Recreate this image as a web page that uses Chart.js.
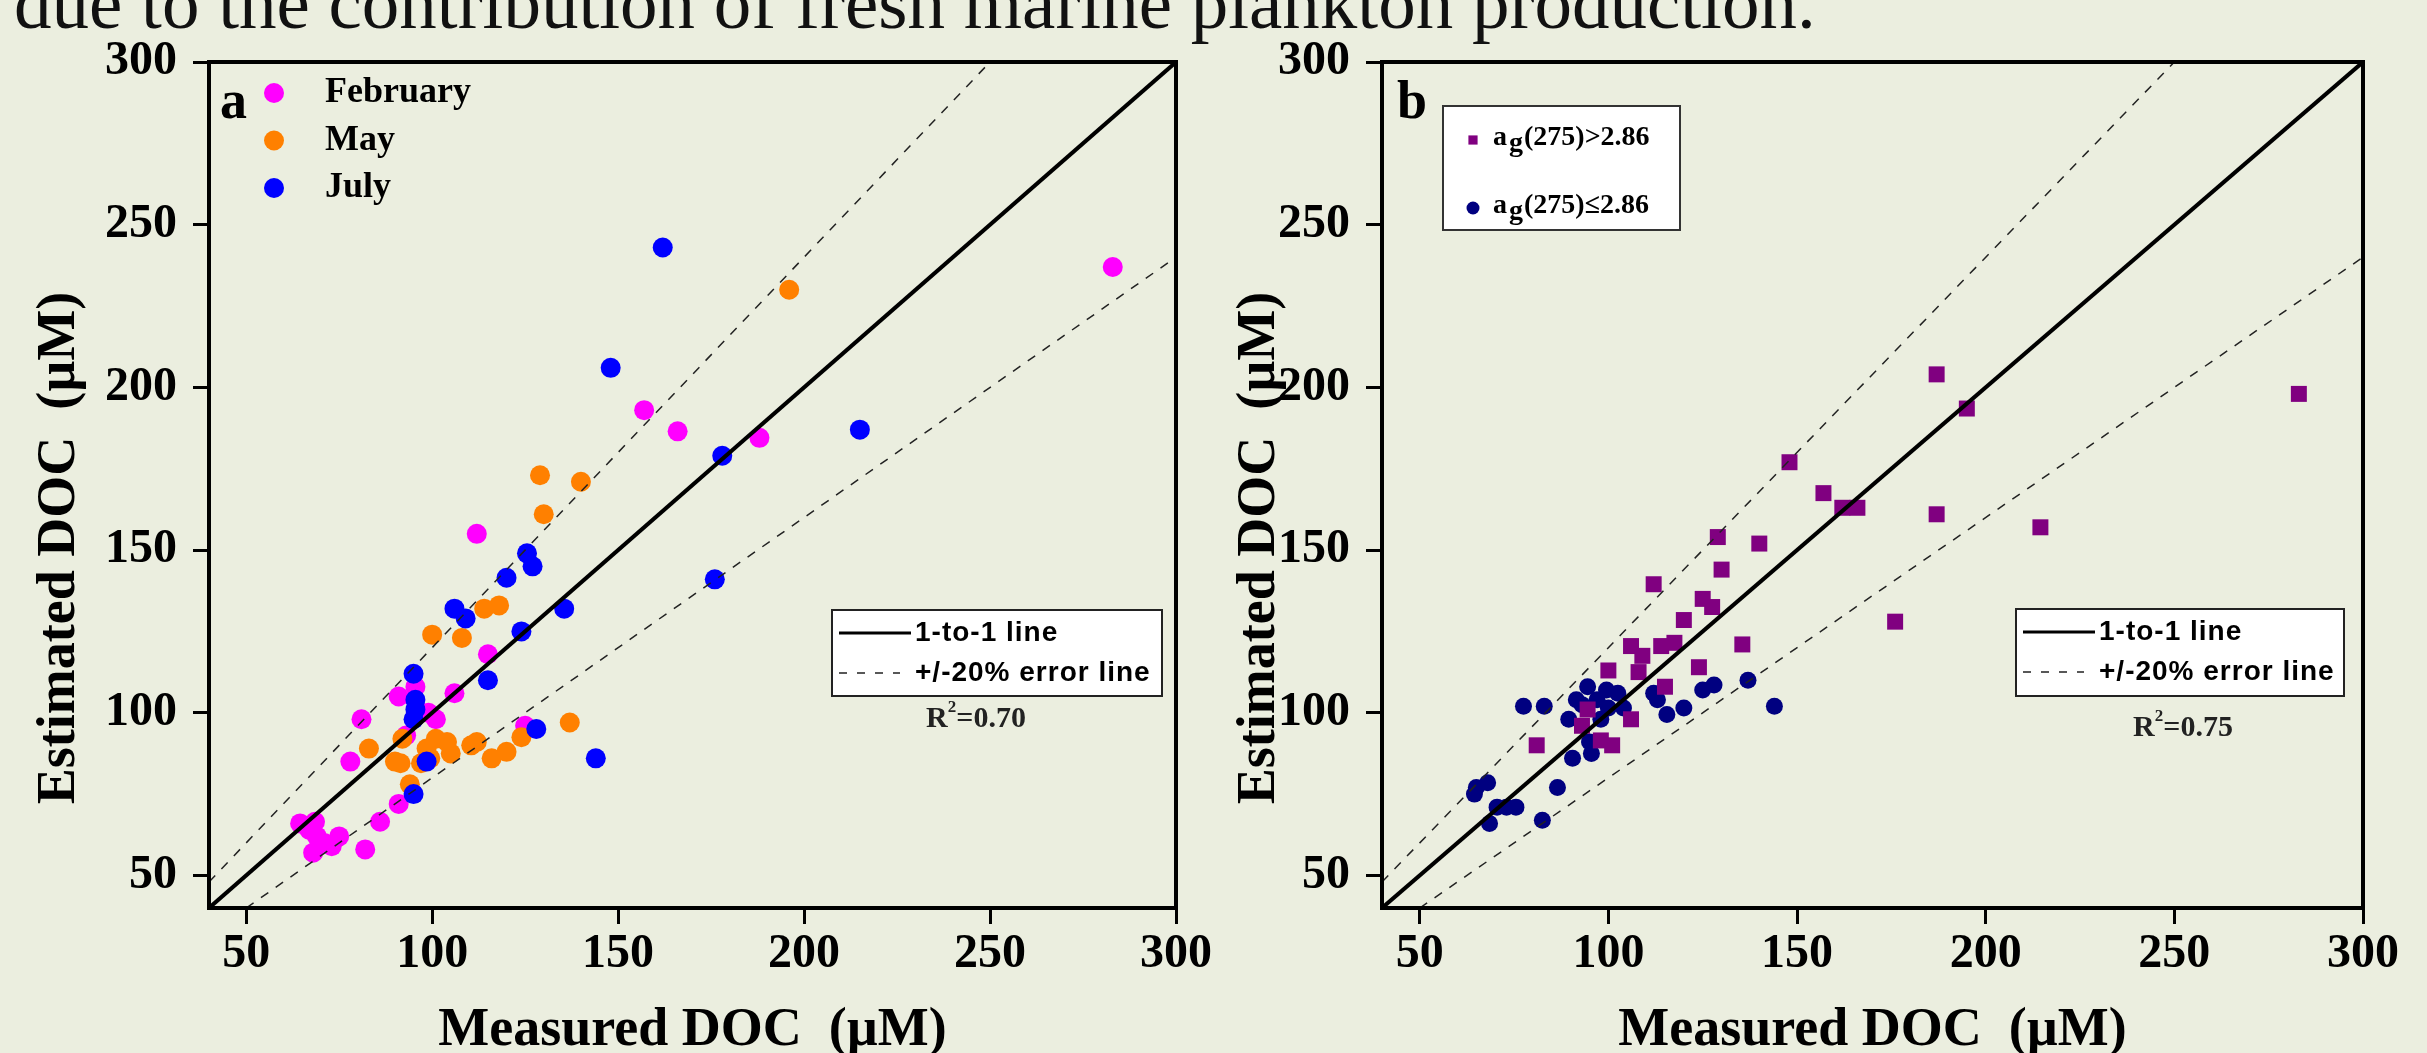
<!DOCTYPE html>
<html>
<head>
<meta charset="utf-8">
<script src="https://cdn.jsdelivr.net/npm/chart.js@4.4.1/dist/chart.umd.min.js"></script>
<style>
  html, body { margin: 0; padding: 0; background: #ebeedf; overflow: hidden; }
  #page { position: relative; width: 2427px; height: 1053px; }
  #caption { position: absolute; left: 14px; top: -35px; font-family: "Liberation Serif", serif; font-size: 75px; line-height: 75px; white-space: nowrap; color: #111; }
  .panel { position: absolute; top: 0; }
</style>
</head>
<body>
<div id="page">
  <div id="caption">due to the contribution of fresh marine plankton production.</div>
  <canvas id="chartA" class="panel" style="left:0" width="1214" height="1053"></canvas>
  <canvas id="chartB" class="panel" style="left:1214px" width="1213" height="1053"></canvas>
</div>
<script>
// axes
const xTicks = [50, 100, 150, 200, 250, 300];
const yTicks = [50, 100, 150, 200, 250, 300];
const axisMin = 40, axisMax = 300;
const xTitle = 'Measured DOC  (\u00b5M)';
const yTitle = 'Estimated DOC  (\u00b5M)';

// panel a: by sampling month
const monthLabels = ['February', 'May', 'July'];
const monthColors = ['#ff00ff', '#ff8000', '#0000ff'];
const febMeasured  = [64.5, 67, 68.5, 69, 68, 71, 73, 75, 82, 86, 91, 78, 81, 91, 95.5, 93, 99, 101, 106, 115, 112, 125, 157, 166, 188, 283];
const febEstimated = [66, 64, 66.5, 62, 57, 60, 59, 62, 58, 66.5, 72, 85, 98, 105, 108, 93, 100, 98, 106, 118, 155, 96, 193, 186.5, 184.5, 237];
const mayMeasured  = [83, 92, 90, 91.5, 94, 97, 98.5, 99.5, 101, 104, 105, 110.5, 112, 116, 120, 124, 137, 100, 108, 114, 118, 130, 129, 140, 196];
const mayEstimated = [89, 92, 85, 84.5, 78, 84.5, 89, 86, 92, 91, 87.5, 90, 91, 86, 88, 92.5, 97, 124, 123, 132, 133, 161, 173, 171, 230];
const julMeasured  = [95, 98.5, 95, 95.5, 95.5, 95, 115, 124, 128, 144, 106, 109, 120, 125.5, 127, 135.5, 176, 178, 215, 148, 162];
const julEstimated = [75, 85, 98, 101, 104, 112, 110, 125, 95, 86, 132, 129, 141.5, 149, 145, 132, 141, 179, 187, 206, 243];

// panel b: by ag(275)
const groupLabels = ['ag(275)>2.86', 'ag(275)\u22642.86'];
const groupColors = ['#800080', '#000080'];
const highMeasured  = [81, 93, 94.5, 98, 101, 100, 106, 106, 108, 109, 114, 117.5, 115, 112, 120, 124, 125, 127.5, 129, 130, 135.5, 140, 148, 157, 162, 166, 176, 187, 187, 195, 214.5, 283];
const highEstimated = [90, 96, 101, 91.5, 90, 113, 98, 120.5, 112.5, 117.5, 120.5, 121.5, 108, 139.5, 128.5, 114, 135, 132.5, 154, 144, 121, 152, 177, 167.5, 163, 163, 128, 204, 161, 193.5, 157, 198];
const lowMeasured  = [64.5, 65, 68, 68.5, 70.5, 73, 75.5, 77.5, 83, 82.5, 86.5, 89.5, 90.5, 91.5, 93, 94.5, 95, 95.5, 97, 98, 99.5, 100, 102.5, 104, 112, 113, 115.5, 120, 125, 128, 137, 144];
const lowEstimated = [75, 77, 78.5, 66, 71, 71, 71, 102, 102, 67, 77, 98, 86, 104, 102.5, 108, 91, 87.5, 104, 98, 107, 101.5, 106, 101.5, 106, 104, 99.5, 101.5, 107, 108.5, 110, 102];

// reference lines
const oneToOneX = [40, 300], oneToOneY = [40, 300];
const upperErrX = [40, 250], upperErrY = [48, 300];
const lowerErrX = [50, 300], lowerErrY = [40, 240];
const r2Values = ['0.70', '0.75'];

const zip = (xs, ys) => xs.map((x, i) => ({ x: x, y: ys[i] }));

const serif = '"Liberation Serif", "Times New Roman", serif';

function refLines() {
  return [
    { type: 'line', label: '1-to-1 line', data: zip(oneToOneX, oneToOneY), borderColor: '#000', borderWidth: 4,
      pointRadius: 0, fill: false, order: 0, legendLine: true, legendDash: [] },
    { type: 'line', label: '+/-20% error line', data: zip(upperErrX, upperErrY), borderColor: '#222', borderWidth: 1.5,
      borderDash: [9, 9], pointRadius: 0, fill: false, order: 0, legendLine: true, legendDash: [8, 10] },
    { type: 'line', label: '', data: zip(lowerErrX, lowerErrY), borderColor: '#222', borderWidth: 1.5,
      borderDash: [9, 9], pointRadius: 0, fill: false, order: 0 }
  ];
}

function axis(ticks, side, size, pad) {
  return {
    type: 'linear', min: axisMin, max: axisMax,
    afterBuildTicks: s => { s.ticks = ticks.map(v => ({ value: v })); },
    afterFit: s => { s[side] = size; },
    border: { display: false },
    grid: { drawOnChartArea: false, drawTicks: true, tickLength: 16, tickWidth: 3, tickColor: '#000' },
    ticks: { autoSkip: false, maxRotation: 0, padding: pad, color: '#000',
      font: { family: serif, weight: 'bold', size: 48 } }
  };
}

function drawMarker(ctx, style, x, y, r, color) {
  ctx.fillStyle = color;
  Chart.helpers.drawPoint(ctx, { pointStyle: style, rotation: 0, radius: r, borderWidth: 0 }, x, y);
}

const panelDecor = {
  id: 'panelDecor',
  afterDatasetsDraw(chart, args, o) {
    const ctx = chart.ctx, a = chart.chartArea;
    ctx.save();
    // frame
    ctx.strokeStyle = '#000';
    ctx.lineWidth = 4;
    ctx.strokeRect(a.left, a.top, a.right - a.left, a.bottom - a.top);

    // panel letter + axis titles
    ctx.fillStyle = '#000';
    ctx.font = 'bold 54px ' + serif;
    ctx.textAlign = 'left';
    ctx.textBaseline = 'alphabetic';
    ctx.fillText(o.letter, a.left + o.letterDx, 118);
    ctx.textAlign = 'center';
    ctx.fillText(xTitle, (a.left + a.right) / 2, 1045);
    ctx.save();
    ctx.translate(o.yTitleX, 548);
    ctx.rotate(-Math.PI / 2);
    ctx.fillText(yTitle, 0, 0);
    ctx.restore();

    // series legend
    const L = o.legend;
    const markers = chart.data.datasets.filter(d => d.type === 'scatter');
    if (L.box) {
      ctx.fillStyle = '#fff';
      ctx.fillRect(L.box[0], L.box[1], L.box[2], L.box[3]);
      ctx.strokeStyle = '#333';
      ctx.lineWidth = 2;
      ctx.strokeRect(L.box[0], L.box[1], L.box[2], L.box[3]);
    }
    markers.forEach((d, i) => {
      const y = L.y + i * L.gap;
      drawMarker(ctx, d.pointStyle, L.x, y, L.r, d.backgroundColor);
      ctx.fillStyle = '#000';
      ctx.textAlign = 'left';
      ctx.font = L.font;
      if (L.sub) {
        ctx.textBaseline = 'alphabetic';
        let tx = L.x + L.dx;
        const base = y + 5;
        ctx.fillText(d.label.slice(0, 1), tx, base);
        tx += ctx.measureText(d.label.slice(0, 1)).width + 2;
        ctx.fillText(d.label.slice(1, 2), tx, base + 6);
        tx += ctx.measureText(d.label.slice(1, 2)).width + 1;
        ctx.fillText(d.label.slice(2), tx, base);
      } else {
        ctx.textBaseline = 'middle';
        ctx.fillText(d.label, L.x + L.dx, y);
      }
    });

    // line legend box
    const B = o.lineBox;
    ctx.fillStyle = '#fff';
    ctx.fillRect(B.x, B.y, B.w, B.h);
    ctx.strokeStyle = '#222';
    ctx.lineWidth = 2;
    ctx.strokeRect(B.x, B.y, B.w, B.h);
    const lines = chart.data.datasets.filter(d => d.legendLine);
    lines.forEach((d, i) => {
      const y = B.y + 23 + i * 40;
      ctx.save();
      ctx.strokeStyle = d.borderColor;
      ctx.lineWidth = d.legendDash.length ? 1.5 : 3;
      ctx.setLineDash(d.legendDash);
      ctx.beginPath();
      ctx.moveTo(B.x + 7, y);
      ctx.lineTo(B.x + (d.legendDash.length ? 68 : 79), y);
      ctx.stroke();
      ctx.restore();
      ctx.fillStyle = '#000';
      ctx.font = 'bold 28px "Liberation Sans", Arial, sans-serif';
      ctx.letterSpacing = '1px';
      ctx.textAlign = 'left';
      ctx.textBaseline = 'middle';
      ctx.fillText(d.label, B.x + 83, y);
      ctx.letterSpacing = '0px';
    });

    // R squared
    ctx.fillStyle = '#222';
    ctx.textBaseline = 'alphabetic';
    ctx.textAlign = 'left';
    ctx.font = 'bold 30px ' + serif;
    const wR = ctx.measureText('R').width;
    const rest = '=' + o.r2;
    const wRest = ctx.measureText(rest).width;
    ctx.font = 'bold 17px ' + serif;
    const w2 = ctx.measureText('2').width;
    let rx = o.r2x - (wR + w2 + wRest) / 2;
    ctx.font = 'bold 30px ' + serif;
    ctx.fillText('R', rx, o.r2y);
    ctx.font = 'bold 17px ' + serif;
    ctx.fillText('2', rx + wR, o.r2y - 15);
    ctx.font = 'bold 30px ' + serif;
    ctx.fillText(rest, rx + wR + w2, o.r2y);
    ctx.restore();
  }
};

function makeChart(id, datasets, yWidth, padRight, decor) {
  return new Chart(document.getElementById(id), {
    type: 'scatter',
    data: { datasets: datasets },
    options: {
      responsive: false,
      animation: false,
      devicePixelRatio: 1,
      layout: { padding: { left: 0, top: 62, right: padRight, bottom: 0 } },
      scales: {
        x: axis(xTicks, 'height', 145, 2),
        y: axis(yTicks, 'width', yWidth, 16)
      },
      plugins: {
        legend: { display: false },
        tooltip: { enabled: false },
        panelDecor: decor
      }
    },
    plugins: [panelDecor]
  });
}

// panel a
makeChart('chartA', [
  { type: 'scatter', label: monthLabels[0], data: zip(febMeasured, febEstimated), backgroundColor: monthColors[0], pointStyle: 'circle', pointRadius: 10, borderWidth: 0, order: 3 },
  { type: 'scatter', label: monthLabels[1], data: zip(mayMeasured, mayEstimated), backgroundColor: monthColors[1], pointStyle: 'circle', pointRadius: 10, borderWidth: 0, order: 2 },
  { type: 'scatter', label: monthLabels[2], data: zip(julMeasured, julEstimated), backgroundColor: monthColors[2], pointStyle: 'circle', pointRadius: 10, borderWidth: 0, order: 1 }
].concat(refLines()), 209, 24, {
  letter: 'a', letterDx: 11, yTitleX: 74, r2: r2Values[0], r2x: 976, r2y: 727,
  legend: { x: 274, y: 93, gap: 47.5, r: 10, dx: 51, font: 'bold 36px ' + serif },
  lineBox: { x: 832, y: 610, w: 330, h: 86 }
});

// panel b
makeChart('chartB', [
  { type: 'scatter', label: groupLabels[0], data: zip(highMeasured, highEstimated), backgroundColor: groupColors[0], pointStyle: 'rect', pointRadius: 11.3, borderWidth: 0, order: 1 },
  { type: 'scatter', label: groupLabels[1], data: zip(lowMeasured, lowEstimated), backgroundColor: groupColors[1], pointStyle: 'circle', pointRadius: 8.5, borderWidth: 0, order: 2 }
].concat(refLines()), 168, 64, {
  letter: 'b', letterDx: 15, yTitleX: 60, r2: r2Values[1], r2x: 969, r2y: 736,
  legend: { x: 259, y: 140, gap: 68, r: 6.5, dx: 20, font: 'bold 28px ' + serif, sub: true, box: [229, 106, 237, 124] },
  lineBox: { x: 802, y: 609, w: 328, h: 87 }
});
</script>
</body>
</html>
